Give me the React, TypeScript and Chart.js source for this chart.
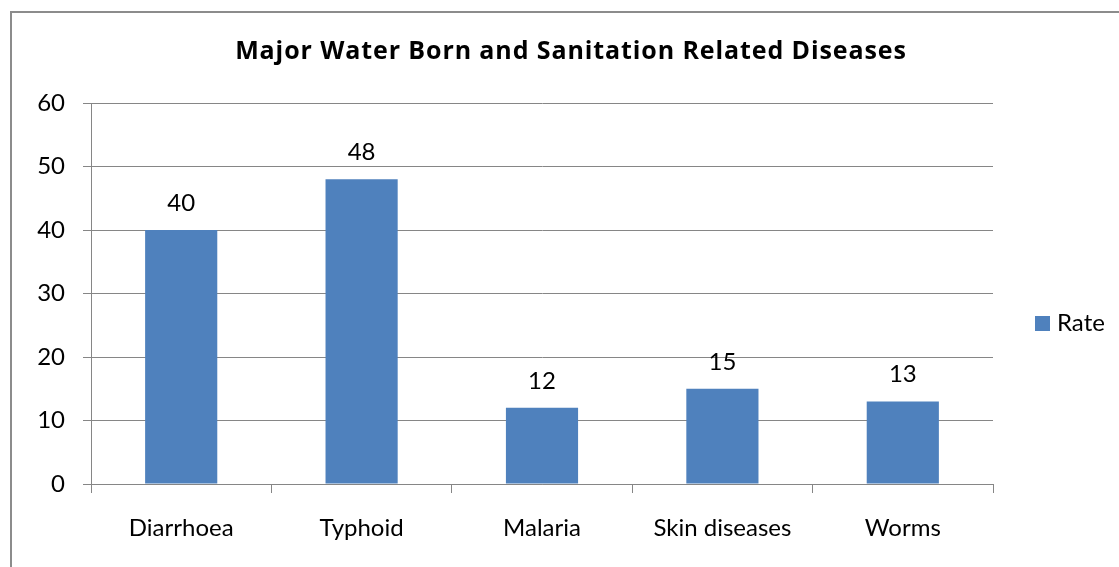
import React, { useEffect, useRef } from "react";
import { Chart, registerables } from "chart.js";

Chart.register(...registerables);

// Chart content
const chartTitle = "Major Water Born and Sanitation Related Diseases";
const seriesName = "Rate";
const categories = ["Diarrhoea", "Typhoid", "Malaria", "Skin diseases", "Worms"];
const rateValues = [40, 48, 12, 15, 13];
const yMin = 0;
const yMax = 60;
const yStep = 10;

// Styling
const FONT_FAMILY = "Lato, 'Open Sans', sans-serif";
const TITLE_FONT_FAMILY = "'Open Sans', Lato, sans-serif";
const BAR_COLOR = "#4F81BD";
const AXIS_COLOR = "#868686";
const FRAME_COLOR = "#8c8c8c";
const TEXT_COLOR = "#000000";

// Draws the outer frame, title, legend and the value labels above each bar.
const decorationsPlugin = {
  id: "decorations",
  beforeDraw(chart: any) {
    const { ctx } = chart;
    ctx.save();
    ctx.fillStyle = "#ffffff";
    ctx.fillRect(0, 0, chart.width, chart.height);
    ctx.strokeStyle = FRAME_COLOR;
    ctx.lineWidth = 2;
    ctx.strokeRect(11, 12, chart.width + 100, chart.height + 100);
    ctx.restore();
  },
  afterDatasetsDraw(chart: any) {
    const { ctx } = chart;
    ctx.save();
    // value labels
    ctx.fillStyle = TEXT_COLOR;
    ctx.font = `24px ${FONT_FAMILY}`;
    ctx.textAlign = "center";
    ctx.textBaseline = "alphabetic";
    const meta = chart.getDatasetMeta(0);
    meta.data.forEach((bar: any, i: number) => {
      const v = chart.data.datasets[0].data[i];
      ctx.fillText(String(v), bar.x, bar.y - 19);
    });

    // title
    ctx.font = `bold 25px ${TITLE_FONT_FAMILY}`;
    if ("letterSpacing" in ctx) (ctx as any).letterSpacing = "0.9px";
    ctx.fillText(chartTitle, 571, 59);
    if ("letterSpacing" in ctx) (ctx as any).letterSpacing = "0px";

    // legend
    const legendX = chart.chartArea.right + 42;
    ctx.fillStyle = BAR_COLOR;
    ctx.fillRect(legendX, 316, 15, 15);
    ctx.fillStyle = TEXT_COLOR;
    ctx.font = `24px ${FONT_FAMILY}`;
    ctx.textAlign = "left";
    ctx.fillText(seriesName, legendX + 22, 331);
    ctx.restore();
  },
};

export default function App() {
  const canvasRef = useRef<HTMLCanvasElement | null>(null);

  useEffect(() => {
    if (!canvasRef.current) return;
    const chart = new Chart(canvasRef.current, {
      type: "bar",
      data: {
        labels: categories,
        datasets: [
          {
            label: seriesName,
            data: rateValues,
            backgroundColor: BAR_COLOR,
            borderWidth: 0,
            barPercentage: 0.4,
            categoryPercentage: 1,
          },
        ],
      },
      options: {
        animation: false,
        responsive: false,
        maintainAspectRatio: false,
        devicePixelRatio: 1,
        layout: { padding: { left: 0, top: 103, right: 126, bottom: 17 } },
        plugins: {
          legend: { display: false },
          title: { display: false },
          tooltip: { enabled: false },
        },
        scales: {
          x: {
            offset: true,
            grid: {
              offset: true,
              drawOnChartArea: false,
              drawTicks: true,
              tickLength: 9,
              color: AXIS_COLOR,
            },
            border: { color: AXIS_COLOR, width: 1 },
            ticks: {
              color: TEXT_COLOR,
              font: { family: FONT_FAMILY, size: 24 },
              padding: 21,
              maxRotation: 0,
              autoSkip: false,
            },
            afterFit(scale: any) {
              scale.height = 66;
            },
          },
          y: {
            min: yMin,
            max: yMax,
            grid: {
              color: AXIS_COLOR,
              tickLength: 8,
              drawTicks: true,
            },
            border: { color: AXIS_COLOR, width: 1 },
            ticks: {
              stepSize: yStep,
              color: TEXT_COLOR,
              font: { family: FONT_FAMILY, size: 24 },
              padding: 18,
            },
            afterFit(scale: any) {
              scale.width = 91;
            },
          },
        },
      },
      plugins: [decorationsPlugin],
    });
    return () => chart.destroy();
  }, []);

  return (
    <div style={{ position: "fixed", left: 0, top: 0, width: 1119, height: 567, background: "#fff" }}>
      <canvas ref={canvasRef} width={1119} height={567} style={{ width: 1119, height: 567, display: "block" }} />
    </div>
  );
}
